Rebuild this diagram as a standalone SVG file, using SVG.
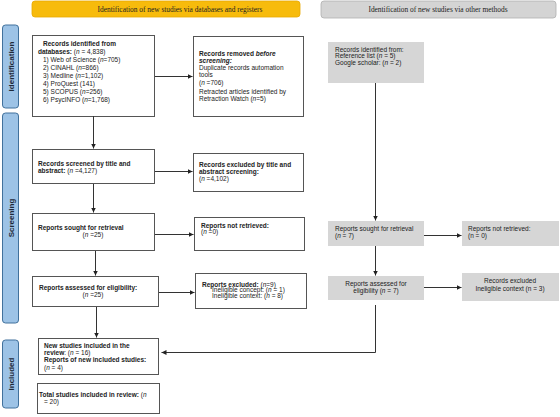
<svg xmlns="http://www.w3.org/2000/svg" width="560" height="417" viewBox="0 0 560 417">
<style>
text{font-family:"Liberation Sans",Arial,sans-serif;font-size:6.5px;fill:#222}
tspan{fill:#222}
.b{font-weight:bold}
.i{font-style:italic}
.hdr{font-family:"Liberation Serif","Times New Roman",serif;font-size:7.4px;fill:#222}
.box{fill:#fff;stroke:#555;stroke-width:1}
.gbox{fill:#d6d6d6;stroke:none}
.tab{fill:#9dc3e6;stroke:#41719c;stroke-width:1}
.tabt{font-size:8px;font-weight:bold;fill:#1f2a3a}
.c{fill:none;stroke:#333;stroke-width:1}
.m{text-anchor:middle}
</style>
<defs>
<marker id="ah" markerWidth="6" markerHeight="6" refX="5" refY="3" orient="auto" markerUnits="userSpaceOnUse">
<path d="M0,0.5 L5,3 L0,5.5 Z" fill="#222"/>
</marker>
</defs>
<rect width="560" height="417" fill="#fff"/>

<g id="hdr-left"><rect x="32" y="1" width="268" height="16" rx="3" fill="#f7bb0c" stroke="#e8a800" stroke-width="0.8"/>
<text class="hdr m" x="180" y="11.8">Identification of new studies via databases and registers</text></g>
<g id="hdr-right"><rect x="321" y="1" width="235" height="17" rx="3" fill="#d4d4d4" stroke="#b0b0b0" stroke-width="0.8"/>
<text class="hdr m" x="438" y="12.2">Identification of new studies via other methods</text></g>

<g id="tab-identification"><rect class="tab" x="2.5" y="25" width="16" height="83" rx="3"/>
<text class="tabt m" transform="translate(13.5,66.5) rotate(-90)">Identification</text></g>
<g id="tab-screening"><rect class="tab" x="2.5" y="113" width="16" height="210" rx="3"/>
<text class="tabt m" transform="translate(13.5,218) rotate(-90)">Screening</text></g>
<g id="tab-included"><rect class="tab" x="2.5" y="340" width="16" height="68" rx="3"/>
<text class="tabt m" transform="translate(13.5,374) rotate(-90)">Included</text></g>

<g id="n-identified"><rect class="box" x="32.5" y="35.5" width="122" height="81"/>
<text x="43" y="45.6" class="b">Records identified from</text>
<text x="38" y="53.6"><tspan class="b">databases:</tspan> (<tspan class="i">n</tspan> = 4,838)</text>
<text x="43" y="61.6">1) Web of Science (<tspan class="i">n</tspan>=705)</text>
<text x="43" y="69.6">2) CINAHL (<tspan class="i">n</tspan>=866)</text>
<text x="43" y="77.6">3) Medline (<tspan class="i">n</tspan>=1,102)</text>
<text x="43" y="85.6">4) ProQuest (141)</text>
<text x="43" y="93.6">5) SCOPUS (<tspan class="i">n</tspan>=256)</text>
<text x="43" y="101.6">6) PsycINFO (<tspan class="i">n</tspan>=1,768)</text></g>

<g id="n-removed"><rect class="box" x="193.5" y="36.5" width="110" height="80"/>
<text x="199" y="55.6" class="b">Records removed <tspan class="i">before</tspan></text>
<text x="199" y="62.8" class="b i">screening:</text>
<text x="199" y="70">Duplicate records automation</text>
<text x="199" y="77.2">tools</text>
<text x="199" y="85.4">(<tspan class="i">n</tspan> =706)</text>
<text x="199" y="93.6">Retracted articles identified by</text>
<text x="199" y="101">Retraction Watch (<tspan class="i">n</tspan>=5)</text></g>

<g id="n-screened"><rect class="box" x="32.5" y="149.5" width="122" height="34"/>
<text x="38" y="165.5" class="b">Records screened by title and</text>
<text x="38" y="172.6"><tspan class="b">abstract:</tspan> (<tspan class="i">n</tspan> =4,127)</text></g>

<g id="n-excluded1"><rect class="box" x="193.5" y="153.5" width="110" height="38"/>
<text x="199" y="167.3" class="b">Records excluded by title and</text>
<text x="199" y="174.1" class="b">abstract screening:</text>
<text x="199" y="180.9">(<tspan class="i">n</tspan> =4,102)</text></g>

<g id="n-sought"><rect class="box" x="32.5" y="213.5" width="122" height="37"/>
<text x="38" y="229.6" class="b">Reports sought for retrieval</text>
<text x="93" y="236.5" class="m">(<tspan class="i">n</tspan> =25)</text></g>

<g id="n-notretrieved"><rect class="box" x="194.5" y="217.5" width="110" height="33"/>
<text x="201" y="228" class="b">Reports not retrieved:</text>
<text x="201" y="234.2">(<tspan class="i">n</tspan> =0)</text></g>

<g id="n-assessed"><rect class="box" x="32.5" y="276.5" width="126" height="30"/>
<text x="39" y="290" class="b">Reports assessed for eligibility:</text>
<text x="93" y="296.7" class="m">(<tspan class="i">n</tspan> =25)</text></g>

<g id="n-excluded2"><rect class="box" x="195.5" y="273.5" width="111" height="35"/>
<text x="202" y="286.6"><tspan class="b">Reports excluded:</tspan> (<tspan class="i">n</tspan>=9)</text>
<text x="212" y="292.4">Ineligible concept: (<tspan class="i">n</tspan> = 1)</text>
<text x="212" y="298.3">Ineligible context: (<tspan class="i">n</tspan> = 8)</text></g>

<g id="n-new"><rect class="box" x="38.5" y="338.5" width="120" height="36"/>
<text x="44" y="348" class="b">New studies included in the</text>
<text x="44" y="355"><tspan class="b">review</tspan>: (<tspan class="i">n</tspan> = 16)</text>
<text x="44" y="362" class="b">Reports of new included studies:</text>
<text x="44" y="369.5">(<tspan class="i">n</tspan> = 4)</text></g>

<g id="n-total"><rect class="box" x="37.5" y="383.5" width="122" height="30"/>
<text x="39" y="396.6"><tspan class="b">Total studies included in review:</tspan> (<tspan class="i">n</tspan></text>
<text x="44" y="404">= 20)</text></g>

<g id="n-other"><rect class="gbox" x="328" y="42" width="96" height="41"/>
<text x="335" y="51.6">Records identified from:</text>
<text x="335" y="58.4">Reference list (<tspan class="i">n</tspan> = 5)</text>
<text x="335" y="65.4">Google scholar: (<tspan class="i">n</tspan> = 2)</text></g>

<g id="n-sought2"><rect class="gbox" x="328" y="221" width="96" height="25"/>
<text x="335" y="231.3">Reports sought for retrieval</text>
<text x="335" y="238.3">(<tspan class="i">n</tspan> = 7)</text></g>

<g id="n-notretrieved2"><rect class="gbox" x="462" y="221" width="97" height="25"/>
<text x="468" y="231.3">Reports not retrieved:</text>
<text x="468" y="238.3">(n = 0)</text></g>

<g id="n-assessed2"><rect class="gbox" x="328" y="276" width="96" height="24"/>
<text x="376" y="285.6" class="m">Reports assessed for</text>
<text x="376" y="293.3" class="m">eligibility (<tspan class="i">n</tspan> = 7)</text></g>

<g id="n-excluded3"><rect class="gbox" x="462" y="273" width="97" height="28"/>
<text x="510" y="283" class="m">Records excluded</text>
<text x="510" y="290.6" class="m">Ineligible context (n = 3)</text></g>

<g id="connectors">
<path class="c" d="M155,76.5 H192.5" marker-end="url(#ah)"/>
<path class="c" d="M93.5,116 V148.5" marker-end="url(#ah)"/>
<path class="c" d="M155,171.5 H192.5" marker-end="url(#ah)"/>
<path class="c" d="M93.5,184 V212.5" marker-end="url(#ah)"/>
<path class="c" d="M155,234.5 H193.5" marker-end="url(#ah)"/>
<path class="c" d="M95.5,251 V275.5" marker-end="url(#ah)"/>
<path class="c" d="M159,292.5 H194.5" marker-end="url(#ah)"/>
<path class="c" d="M96.5,307 V337.5" marker-end="url(#ah)"/>
<path class="c" d="M375.5,83 V220.5" marker-end="url(#ah)"/>
<path class="c" d="M424,235.5 H461.5" marker-end="url(#ah)"/>
<path class="c" d="M375.5,246 V275.5" marker-end="url(#ah)"/>
<path class="c" d="M424,287.5 H461.5" marker-end="url(#ah)"/>
<path class="c" d="M375.5,305 V352.5 H161.5" marker-end="url(#ah)"/>
</g>
</svg>
